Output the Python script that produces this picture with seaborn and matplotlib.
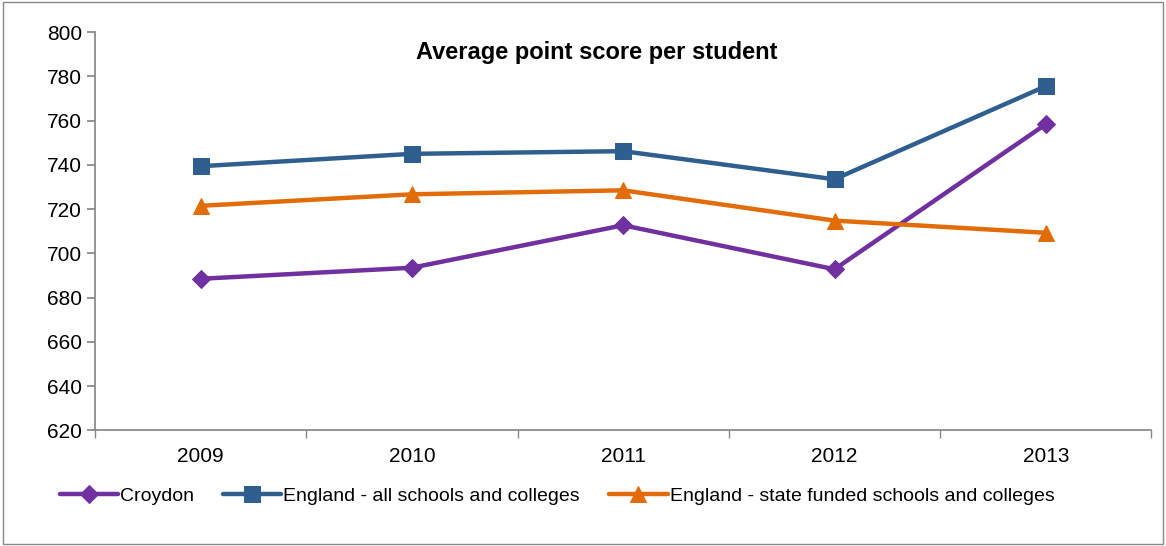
import matplotlib
matplotlib.use("Agg")
import matplotlib.pyplot as plt
import seaborn as sns
import pandas as pd
import numpy as np

years = ["2009", "2010", "2011", "2012", "2013"]
croydon = [688.5, 693.5, 712.7, 692.8, 758.4]
england_all = [739.4, 745.0, 746.2, 733.5, 775.6]
england_state = [721.5, 726.7, 728.5, 714.8, 709.3]

sns.set_theme(style="white")
plt.rcParams['font.family'] = ['Liberation Sans', 'DejaVu Sans']
plt.rcParams['text.color'] = 'black'
fig = plt.figure(figsize=(11.66, 5.46), dpi=100)
ax = fig.add_axes([0.0815, 0.212, 0.906, 0.729])

x = np.arange(len(years))
series = [("Croydon", croydon, "#7030A0", "D", 9),
          ("England - all schools and colleges", england_all, "#2F5F8F", "s", 11),
          ("England - state funded schools and colleges", england_state, "#E36C0A", "^", 11)]
for name, vals, c, m, ms in series:
    df = pd.DataFrame({"x": x, "y": vals})
    sns.lineplot(data=df, x="x", y="y", ax=ax, color=c, marker=m, markersize=ms,
                 linewidth=3.2, markeredgecolor=c, label=name)

ax.set_xlim(-0.5, 4.5)
ax.set_ylim(620, 800)
ax.set_yticks(range(620, 801, 20))
ax.set_xticks(x)
ax.set_xticklabels(years)
ax.set_xticks(np.arange(-0.5, 4.6, 1), minor=True)
ax.tick_params(axis="x", which="major", length=0, pad=12, labelsize=15, labelcolor="black")
ax.tick_params(axis="x", which="minor", bottom=True, length=6, width=1, color="#888888", direction="out")
ax.tick_params(axis="y", length=6, color="#888888", direction="out", labelsize=15, left=True, labelcolor="black")
ax.set_xlabel("")
ax.set_ylabel("")
for s in ["top", "right"]:
    ax.spines[s].set_visible(False)
for s in ["left", "bottom"]:
    ax.spines[s].set_color("#888888")
ax.text(0.475, 0.95, "Average point score per student", transform=ax.transAxes,
        ha="center", va="center", fontsize=17, fontweight="bold", color="black")
ax.legend(loc="upper left", bbox_to_anchor=(-0.05, -0.1), ncol=3, frameon=False,
          fontsize=14, handlelength=3, handletextpad=0.1, columnspacing=1.5, labelcolor="black")
fig.patches.append(plt.Rectangle((0.003, 0.003), 0.994, 0.994, transform=fig.transFigure,
                                 fill=False, edgecolor="#888888", linewidth=1))
fig.savefig("out.png", dpi=100)
